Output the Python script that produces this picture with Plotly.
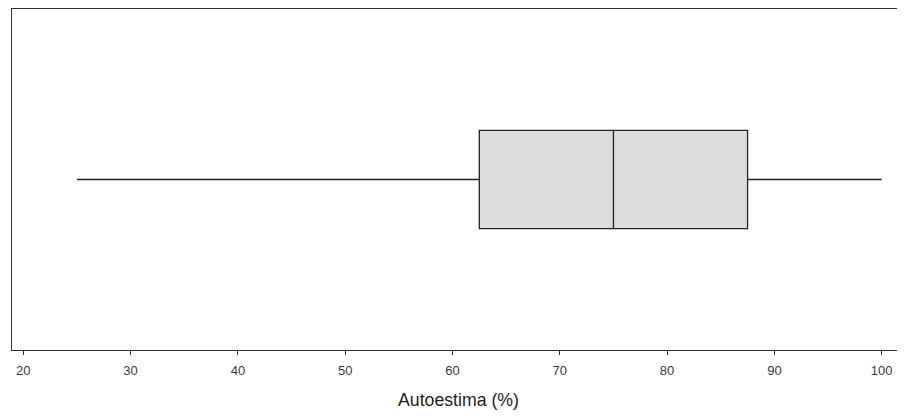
import plotly.graph_objects as go

# Summary statistics of the boxplot (Autoestima %)
lower_fence = [25]
q1 = [62.5]
median = [75]
q3 = [87.5]
upper_fence = [100]
tick_values = [20, 30, 40, 50, 60, 70, 80, 90, 100]
tick_labels = ["20", "30", "40", "50", "60", "70", "80", "90", "100"]
x_title = "Autoestima (%)"

fig = go.Figure()
fig.add_trace(go.Box(
    orientation="h",
    y=[0],
    q1=q1, median=median, q3=q3,
    lowerfence=lower_fence, upperfence=upper_fence,
    fillcolor="#dcdcdc",
    line=dict(color="#222222", width=1.3),
    whiskerwidth=0,
    width=0.577,
    boxpoints=False,
    hoverinfo="skip",
    showlegend=False,
))

fig.update_layout(
    width=897, height=402,
    margin=dict(l=4, r=0, t=1, b=60, autoexpand=False),
    paper_bgcolor="white", plot_bgcolor="white",
    font=dict(family="Liberation Sans, Arial, sans-serif", color="#333333"),
    xaxis=dict(
        range=[18.95, 102.17],
        tickvals=tick_values, ticktext=tick_labels,
        ticks="outside", ticklen=4, tickwidth=1, tickcolor="#333333",
        tickfont=dict(size=13, color="#3a3a3a"),
        ticklabelstandoff=4,
        showgrid=False, zeroline=False, automargin=False,
        showline=True, linecolor="#333333", linewidth=1.3, mirror=True,
        title=dict(text=x_title, font=dict(size=17.7, color="#222222"), standoff=18),
    ),
    yaxis=dict(
        range=[-1, 1],
        showticklabels=False, ticks="",
        showgrid=False, zeroline=False,
        showline=True, linecolor="#333333", linewidth=1.3, mirror=False,
    ),
)

fig.write_html("out.html")
